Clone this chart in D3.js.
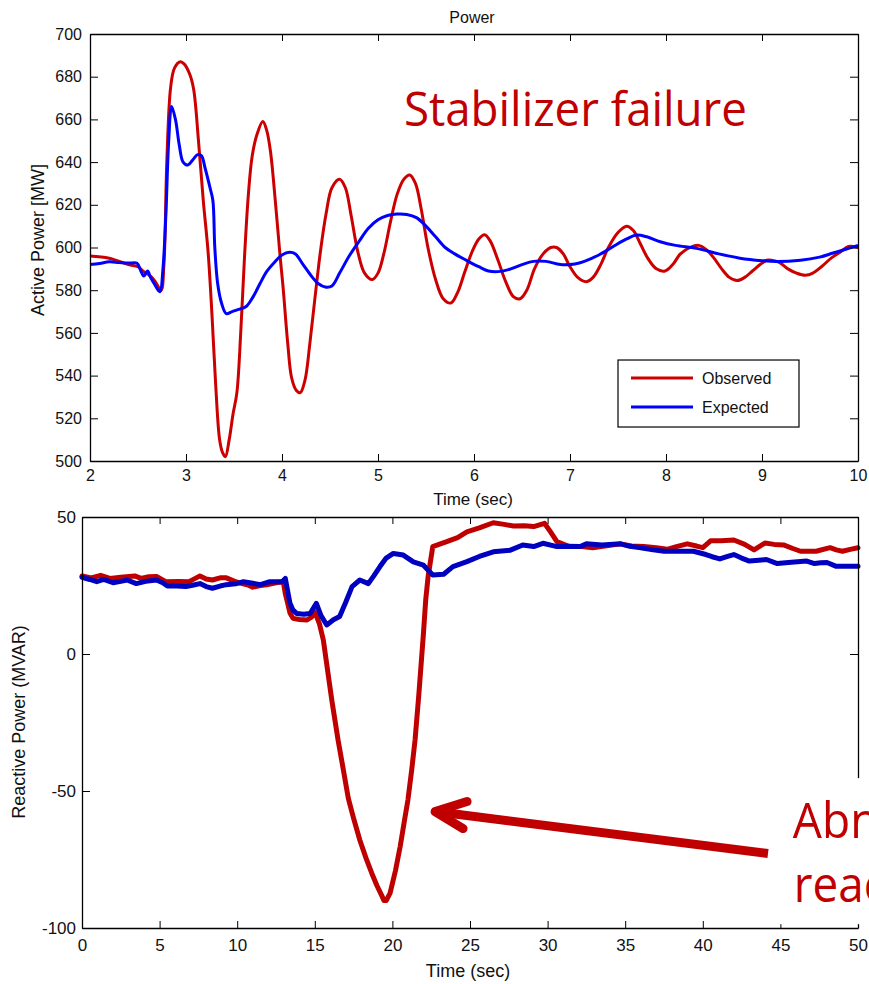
<!DOCTYPE html>
<html><head><meta charset="utf-8">
<script src="https://cdn.jsdelivr.net/npm/d3@7"></script>
<style>
body{margin:0;background:#fff;}
svg{display:block;font-family:"Liberation Sans",Arial,Helvetica,sans-serif;}
</style>
</head><body>
<svg id="chart" width="869" height="984"></svg>
<script>
// ---------- data ----------
const activeTimeTicks = [2,3,4,5,6,7,8,9,10];
const activePowerTicks = [500,520,540,560,580,600,620,640,660,680,700];
const reactiveTimeTicks = [0,5,10,15,20,25,30,35,40,45,50];
const reactivePowerTicks = [-100,-50,0,50];
const seriesNames = ["Observed","Expected"];

// [time (sec), active power (MW)]
const observedActive = [[2.0,596],[2.2,595],[2.4,592],[2.5,591],[2.55,589],[2.62,587],[2.68,584],[2.74,580],[2.77,592],[2.8,640],[2.84,675],[2.88,684],[2.94,687],[2.98,686],[3.04,681],[3.08,674],[3.13,650],[3.18,622],[3.23,598],[3.27,569],[3.31,535],[3.35,510],[3.38,504],[3.41,502],[3.45,510],[3.49,522],[3.53,532],[3.57,560],[3.61,596],[3.65,625],[3.69,643],[3.74,653],[3.8,659],[3.84,655],[3.88,645],[3.93,622],[3.98,596],[4.01,582],[4.06,555],[4.1,539],[4.15,533],[4.19,532],[4.24,538],[4.29,555],[4.34,575],[4.4,598],[4.46,616],[4.52,628],[4.6,632],[4.66,628],[4.72,615],[4.79,598],[4.86,588],[4.94,585],[5.0,588],[5.06,597],[5.13,612],[5.2,625],[5.27,632],[5.33,634],[5.39,630],[5.45,618],[5.52,600],[5.6,585],[5.68,576],[5.76,574],[5.83,579],[5.9,588],[5.98,598],[6.05,604],[6.11,606],[6.17,603],[6.25,594],[6.33,584],[6.41,577],[6.48,576],[6.55,580],[6.63,590],[6.72,597],[6.8,600],[6.86,600],[6.93,597],[7.0,591],[7.08,586],[7.17,584],[7.24,586],[7.32,592],[7.4,600],[7.5,607],[7.59,610],[7.66,608],[7.73,602],[7.81,595],[7.9,590],[7.99,589],[8.07,592],[8.15,597],[8.25,600],[8.34,601],[8.42,599],[8.5,595],[8.58,590],[8.66,586],[8.74,584.5],[8.82,586],[8.9,589],[8.98,592],[9.05,594],[9.1,594],[9.18,593],[9.27,590],[9.36,588],[9.45,587],[9.53,588],[9.62,591],[9.72,595],[9.82,598],[9.9,600.5],[10,600]];
const expectedActive = [[2.0,592],[2.1,592.5],[2.2,593.3],[2.3,593],[2.4,592.7],[2.49,592.6],[2.53,589],[2.56,586.6],[2.6,589],[2.63,586],[2.67,583],[2.71,580],[2.73,579.3],[2.76,590],[2.79,615],[2.82,650],[2.85,666],[2.89,660],[2.93,648],[2.97,640],[3.02,638.6],[3.07,641],[3.12,643.5],[3.16,643],[3.2,637],[3.25,628],[3.28,622],[3.3,600],[3.33,583],[3.37,574],[3.42,569],[3.48,570],[3.55,571],[3.63,572.5],[3.7,577],[3.77,583],[3.84,588.7],[3.92,593],[4.0,596.5],[4.08,597.8],[4.14,597],[4.22,592],[4.3,587],[4.38,583],[4.45,581.5],[4.52,582],[4.6,588],[4.7,596],[4.8,602.7],[4.9,609],[5.0,613],[5.1,615],[5.2,615.7],[5.3,615.5],[5.4,614],[5.5,610],[5.6,605],[5.7,600],[5.8,597],[5.92,594],[6.05,591],[6.15,589],[6.25,588.7],[6.35,589.5],[6.5,592],[6.62,593.5],[6.75,593.5],[6.9,592],[7.05,592.3],[7.15,593.5],[7.3,596.5],[7.45,600.5],[7.59,604],[7.69,605.8],[7.8,605],[7.94,602.7],[8.1,601],[8.32,599.6],[8.55,597],[8.77,595],[9.0,593.8],[9.15,593.4],[9.4,594],[9.6,595.5],[9.74,597.4],[9.88,599.3],[10,601]];

// [time (sec), reactive power (MVAR)]
const observedReactive = [[0,28.5],[0.6,27.8],[1.2,28.7],[1.8,27.6],[2.5,28],[3.4,28.5],[3.8,27.6],[4.3,28.2],[4.8,28.3],[5.4,26.4],[6.2,26.5],[6.9,26.4],[7.3,27.6],[7.6,28.5],[8.0,27.4],[8.4,27],[8.9,27.8],[9.3,27.8],[9.8,26.6],[10.2,25.9],[10.7,25.2],[11.0,24.4],[11.5,25],[11.9,25.3],[12.5,26],[12.97,26.4],[13.1,22],[13.2,19.7],[13.4,15],[13.6,13],[14.0,12.6],[14.5,12.4],[14.8,13.5],[15.0,15.4],[15.3,11],[15.55,5.1],[15.8,-5],[16.1,-17],[16.5,-31.4],[16.8,-41],[17.16,-52.7],[17.5,-60],[17.9,-67.9],[18.3,-74.5],[18.67,-80],[19.0,-84.5],[19.3,-88],[19.46,-90],[19.6,-90],[19.85,-87.3],[20.2,-79],[20.5,-70.3],[20.8,-60],[21.0,-53.3],[21.25,-42],[21.46,-31.4],[21.7,-15],[22.0,7.5],[22.15,20],[22.3,28.2],[22.6,39.2],[23.0,40],[23.5,41],[24.2,42.5],[24.8,44.6],[25.6,46],[26.5,47.9],[27.2,47.3],[27.8,46.7],[28.5,46.8],[29.1,46.5],[29.8,47.7],[30.2,44.5],[30.6,41],[31.4,39.2],[32.2,39.2],[32.9,38.8],[33.8,39.5],[34.7,40.2],[35.4,39.4],[36.2,39.2],[37.0,38.8],[37.7,38.2],[38.3,39.2],[39.0,40.2],[39.6,39.4],[40.0,38.8],[40.5,41.3],[41.2,41.3],[42.0,41.6],[42.7,40],[43.3,38],[44.0,40.5],[44.6,40],[45.2,39.8],[45.8,38.5],[46.3,37.5],[47.3,37.5],[48.2,38.8],[48.6,38],[49.0,37.5],[49.5,38.2],[50,38.8]];
const expectedReactive = [[0,28],[0.5,27.2],[0.95,26.4],[1.4,27.2],[2.0,26],[2.5,26.5],[2.9,27],[3.5,25.7],[4.1,26.5],[4.8,27],[5.2,26],[5.5,24.8],[6.1,24.8],[6.7,24.6],[7.2,25.2],[7.6,25.7],[8.0,24.6],[8.4,24],[8.9,24.8],[9.3,25.3],[9.9,25.6],[10.4,26.4],[11.0,25.8],[11.5,25.3],[12.1,26.4],[12.9,26.4],[13.1,27.6],[13.25,23],[13.4,18.5],[13.6,16],[13.83,14.8],[14.3,14.5],[14.7,14.8],[15.1,18.5],[15.4,14],[15.77,10.6],[16.2,12.5],[16.6,13.7],[17.0,19],[17.4,24.6],[17.9,27],[18.45,25.7],[18.8,28.5],[19.2,31.9],[19.6,35],[20.06,36.7],[20.7,36.1],[21.35,33.6],[22.0,32.4],[22.6,28.8],[23.3,29.1],[23.9,31.9],[24.8,33.7],[25.6,35.6],[26.5,37.3],[27.6,37.9],[28.4,39.8],[29.1,39.2],[29.7,40.4],[30.6,39.2],[31.3,39.3],[32.1,39.2],[32.5,40.2],[33.5,39.8],[34.7,40.2],[35.3,39.3],[36,38.8],[36.8,38],[37.5,37.5],[38.5,37.5],[39.4,37.5],[40.2,36.3],[40.6,35.5],[41.1,34.7],[41.6,35.6],[42,36.3],[42.5,35],[43,33.9],[43.6,34.2],[44.1,34.5],[44.8,33],[45.7,33.5],[46.7,33.9],[47.2,33],[47.6,33.3],[48,33.4],[48.6,32],[49.3,32],[50,32]];

// annotations (data units)
const stabilizerNote = {text:"Stabilizer failure", t:5.27, v:657};
const reactiveNote = {lines:["Abnormal","reactive power"], t:45.8, v:-55};
const arrowTip = [22.75, -57.5];
const arrowTail = [44.2, -72.8];

// ---------- drawing ----------
const svg = d3.select("#chart");
svg.append("rect").attr("width",869).attr("height",984).attr("fill","#fff");
const fmt = d => String(d);

function drawFrame(g, x, y, w, h, xTicks, yTicks, xPad, yPad, xTick, yTick, fs) {
  const ax = (sel) => { sel.selectAll("path.domain").attr("stroke","#000").attr("stroke-width",1.3);
                        sel.selectAll(".tick line").attr("stroke","#000").attr("stroke-width",1);
                        sel.selectAll("text").attr("fill","#111").attr("font-size",fs).attr("font-family","'Liberation Sans',Arial,sans-serif"); };
  g.append("g").attr("transform",`translate(0,${h})`)
    .call(d3.axisBottom(x).tickValues(xTicks).tickSize(-xTick).tickSizeOuter(0).tickPadding(xPad).tickFormat(fmt)).call(ax);
  g.append("g")
    .call(d3.axisTop(x).tickValues(xTicks).tickSize(-xTick).tickSizeOuter(0).tickFormat("")).call(ax);
  g.append("g")
    .call(d3.axisLeft(y).tickValues(yTicks).tickSize(-yTick).tickSizeOuter(0).tickPadding(yPad).tickFormat(fmt)).call(ax);
  g.append("g").attr("transform",`translate(${w},0)`)
    .call(d3.axisRight(y).tickValues(yTicks).tickSize(-yTick).tickSizeOuter(0).tickFormat("")).call(ax);
}

// ===== Top chart =====
const T = {left:90, top:34, w:768, h:427};
const x1 = d3.scaleLinear().domain([2,10]).range([0,T.w]);
const y1 = d3.scaleLinear().domain([500,700]).range([T.h,0]);
const g1 = svg.append("g").attr("transform",`translate(${T.left},${T.top})`);

const line1 = d3.line().x(d=>x1(d[0])).y(d=>y1(d[1])).curve(d3.curveCatmullRom.alpha(0.5));
g1.append("path").datum(observedActive).attr("d",line1).attr("fill","none").attr("stroke","#cc0000").attr("stroke-width",3).attr("stroke-linejoin","round");
g1.append("path").datum(expectedActive).attr("d",line1).attr("fill","none").attr("stroke","#0000ff").attr("stroke-width",3).attr("stroke-linejoin","round");

drawFrame(g1, x1, y1, T.w, T.h, activeTimeTicks, activePowerTicks, 9, 8, 7, 8, 16);

g1.append("text").attr("x",T.w/2 - 2).attr("y",-11).attr("text-anchor","middle").attr("font-size",16).attr("fill","#111").text("Power");
g1.append("text").attr("x",T.w/2 - 1).attr("y",T.h+44).attr("text-anchor","middle").attr("font-size",17).attr("fill","#111").text("Time (sec)");
svg.append("text").attr("transform","translate(44,240) rotate(-90)").attr("text-anchor","middle").attr("font-size",18).attr("fill","#111").text("Active Power [MW]");

g1.append("text").attr("x",x1(stabilizerNote.t)).attr("y",y1(stabilizerNote.v))
  .attr("font-family","'Open Sans','Noto Sans',sans-serif").attr("font-size",48).attr("fill","#c00000")
  .attr("textLength",343).attr("lengthAdjust","spacingAndGlyphs").text(stabilizerNote.text);

// legend
const lg = g1.append("g").attr("transform",`translate(${x1(7.5)},${y1(547.3)})`);
lg.append("rect").attr("width",181).attr("height",67).attr("fill","#fff").attr("stroke","#000").attr("stroke-width",1.2);
[["#cc0000",18],["#0000ff",47]].forEach((c,i)=>{
  lg.append("line").attr("x1",13).attr("x2",75).attr("y1",c[1]).attr("y2",c[1]).attr("stroke",c[0]).attr("stroke-width",3);
  lg.append("text").attr("x",84).attr("y",c[1]+6).attr("font-size",16).attr("fill","#111").text(seriesNames[i]);
});

// ===== Bottom chart =====
const B = {left:82, top:517, w:776, h:411};
const x2 = d3.scaleLinear().domain([0,50]).range([0,B.w]);
const y2 = d3.scaleLinear().domain([-100,50]).range([B.h,0]);
const g2 = svg.append("g").attr("transform",`translate(${B.left},${B.top})`);

const line2 = d3.line().x(d=>x2(d[0])).y(d=>y2(d[1]));
g2.append("path").datum(observedReactive).attr("d",line2).attr("fill","none").attr("stroke","#bf0000").attr("stroke-width",5).attr("stroke-linejoin","round").attr("stroke-linecap","round");
g2.append("path").datum(expectedReactive).attr("d",line2).attr("fill","none").attr("stroke","#0000c0").attr("stroke-width",5).attr("stroke-linejoin","round").attr("stroke-linecap","round");

drawFrame(g2, x2, y2, B.w, B.h, reactiveTimeTicks, reactivePowerTicks, 11, 6, 7, 8, 17);

g2.append("text").attr("x",B.w/2 - 2).attr("y",B.h+49).attr("text-anchor","middle").attr("font-size",18).attr("fill","#111").text("Time (sec)");
svg.append("text").attr("transform","translate(25,722) rotate(-90)").attr("text-anchor","middle").attr("font-size",18).attr("fill","#111").text("Reactive Power (MVAR)");

// annotation: white text box, arrow, text
const bx = x2(reactiveNote.t);
g2.append("rect").attr("x",bx-14).attr("y",y2(-45.3)).attr("width",120).attr("height",y2(-98.6)-y2(-45.3)).attr("fill","#fff");
const ann = g2.append("g").attr("stroke","#c00000").attr("stroke-width",9).attr("stroke-linecap","round").attr("fill","none");
const tip = [x2(arrowTip[0]), y2(arrowTip[1])];
const tail = [x2(arrowTail[0]), y2(arrowTail[1])];
ann.append("line").attr("x1",tail[0]).attr("y1",tail[1]).attr("x2",tip[0]+4).attr("y2",tip[1]+0.5).attr("stroke-linecap","butt");
ann.append("polyline").attr("stroke-linejoin","round")
  .attr("points",[[tip[0]+32,tip[1]-10],[tip[0],tip[1]],[tip[0]+28,tip[1]+17]].map(p=>p.join(",")).join(" "));
const noteLen = [212, 316];
reactiveNote.lines.forEach((s,i)=>{
  g2.append("text").attr("x",bx + i*1).attr("y",(838 - B.top) + i*64)
    .attr("font-family","'Open Sans','Noto Sans',sans-serif").attr("font-size",50).attr("fill","#c00000")
    .attr("textLength",noteLen[i]).attr("lengthAdjust","spacingAndGlyphs").text(s);
});
</script>
</body></html>
